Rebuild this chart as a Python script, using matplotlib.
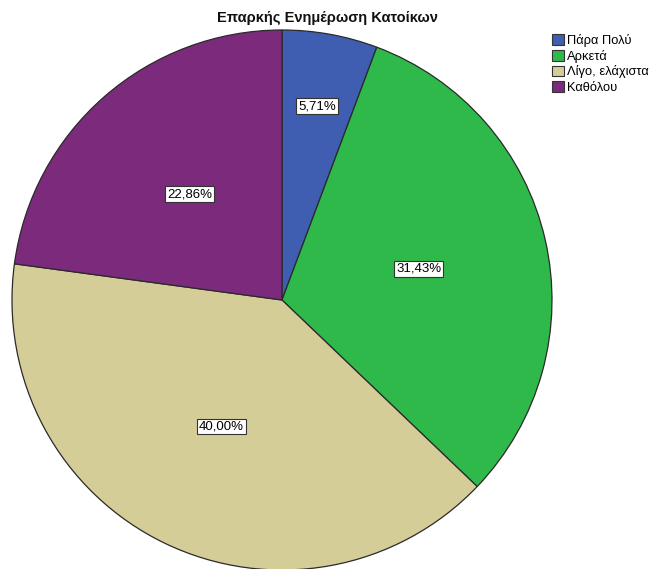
import numpy as np
import matplotlib
matplotlib.use("Agg")
import matplotlib.pyplot as plt

plt.rcParams['font.family'] = ['Liberation Sans', 'DejaVu Sans']

categories = ["Πάρα Πολύ", "Αρκετά", "Λίγο, ελάχιστα", "Καθόλου"]
percents = [5.71, 31.43, 40.00, 22.86]
colors = ["#3f5db1", "#2fb94a", "#d5cd98", "#7b2a7c"]
label_dist = [0.73, 0.52, 0.52, 0.52]
title = "Επαρκής Ενημέρωση Κατοίκων"

fig = plt.figure(figsize=(6.5, 5.69), dpi=100)
ax = fig.add_axes([12 / 650, -1 / 569, 540 / 650, 540 / 569])

wedges, _ = ax.pie(percents, colors=colors, startangle=90, counterclock=False,
                   radius=1.0, frame=True,
                   wedgeprops=dict(edgecolor="#2a2a2a", linewidth=0.9))
ax.set_xlim(-1, 1)
ax.set_ylim(-1, 1)
ax.set_aspect("auto")
ax.axis("off")

# value boxes at each wedge's mid-angle
for w, p, d in zip(wedges, percents, label_dist):
    ang = np.deg2rad((w.theta1 + w.theta2) / 2)
    ax.text(d * np.cos(ang), d * np.sin(ang), f"{p:.2f}%".replace(".", ","),
            ha="center", va="center", fontsize=9.5,
            bbox=dict(boxstyle="square,pad=0.15", fc="white", ec="#333333", lw=0.8))

fig.text(327 / 650, 1 - 18 / 569, title, ha="center", va="center",
         fontsize=10.5, fontweight="bold", color="#111111")

handles = [plt.Rectangle((0, 0), 1, 1, fc=c, ec="#333333", lw=0.8) for c in colors]
fig.legend(handles, categories, loc="upper left", bbox_to_anchor=(551 / 650, 1 - 33 / 569),
           frameon=False, fontsize=9.3, handlelength=0.9, handleheight=0.9,
           handletextpad=0.25, labelspacing=0.2, borderpad=0.1, borderaxespad=0)

fig.savefig("out.png", dpi=100)
